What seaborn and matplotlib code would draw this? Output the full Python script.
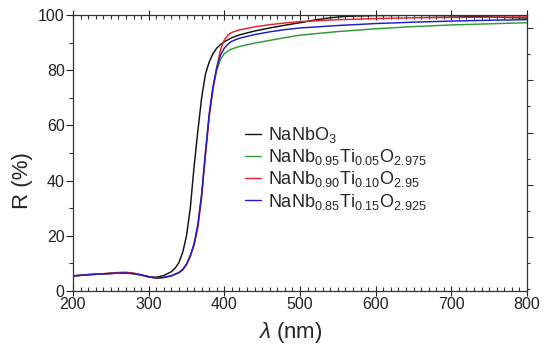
import numpy as np
import pandas as pd
import matplotlib
matplotlib.use("Agg")
import matplotlib.pyplot as plt
from matplotlib.ticker import MultipleLocator
import seaborn as sns

sns.set_style("ticks")
plt.rcParams['font.family'] = ['Liberation Sans', 'DejaVu Sans']
plt.rcParams['mathtext.fontset'] = 'custom'
plt.rcParams['mathtext.rm'] = 'Liberation Sans'
plt.rcParams['mathtext.it'] = 'Liberation Sans:italic'
plt.rcParams['mathtext.default'] = 'regular'

# ---- data ----
wl_nbo = [200, 220, 240, 260, 270, 280, 290, 300, 310, 320, 330, 335, 340, 345, 350, 355,
          360, 365, 370, 375, 380, 385, 390, 395, 400, 410, 420, 440, 460, 480, 500,
          520, 540, 560, 600, 650, 700, 750, 800]
r_nbo = [5.5, 5.9, 6.2, 6.5, 6.5, 6.3, 5.8, 5.2, 5.0, 5.6, 7.0, 8.3, 10.3, 14.0, 20.0, 30.0,
         45.0, 58.0, 70.0, 78.5, 83.0, 86.0, 88.0, 89.3, 90.3, 91.8, 92.8, 94.2, 95.3, 96.3, 97.2,
         98.2, 99.0, 99.5, 99.8, 99.9, 99.7, 99.3, 98.9]

wl_ti = [200, 220, 240, 260, 270, 280, 290, 300, 310, 320, 330, 340, 345, 350, 355, 360,
         365, 370, 375, 380, 385, 390, 395, 400, 405, 410, 420, 440, 460, 480, 500,
         550, 600, 650, 700, 750, 800]
r_ti05 = [5.4, 5.9, 6.2, 6.5, 6.5, 6.3, 5.8, 5.1, 4.7, 4.9, 5.5, 6.7, 7.8, 9.7, 12.8, 17.0,
          24.0, 35.0, 50.0, 64.0, 73.5, 80.0, 84.0, 86.0, 87.0, 87.7, 88.6, 89.8, 90.8, 91.8, 92.7,
          94.0, 95.0, 95.8, 96.4, 96.8, 97.2]
r_ti10 = [5.5, 6.0, 6.3, 6.7, 6.8, 6.5, 5.9, 5.2, 4.7, 4.9, 5.5, 6.6, 7.6, 9.5, 12.5, 16.5,
          23.0, 34.0, 49.0, 63.0, 73.0, 81.0, 87.5, 91.0, 92.8, 93.7, 94.6, 95.7, 96.5, 97.1, 97.6,
          98.3, 98.7, 99.0, 99.1, 99.2, 99.3]
r_ti15 = [5.4, 5.9, 6.2, 6.5, 6.5, 6.3, 5.8, 5.1, 4.7, 4.9, 5.5, 6.7, 7.8, 9.7, 12.8, 17.0,
          24.0, 35.0, 50.0, 64.0, 74.0, 81.0, 85.5, 88.0, 89.5, 90.5, 91.6, 92.9, 93.9, 94.7, 95.3,
          96.2, 96.9, 97.4, 97.8, 98.1, 98.3]

labels = ['NaNbO$_{3}$',
          'NaNb$_{0.95}$Ti$_{0.05}$O$_{2.975}$',
          'NaNb$_{0.90}$Ti$_{0.10}$O$_{2.95}$',
          'NaNb$_{0.85}$Ti$_{0.15}$O$_{2.925}$']
colors = ['#111111', '#2e9a35', '#e8202e', '#1c1ccf']

x_ticks = [200, 300, 400, 500, 600, 700, 800]
y_ticks = [0, 20, 40, 60, 80, 100]

frames = [
    pd.DataFrame({'wl': wl_nbo, 'R': r_nbo, 'sample': labels[0]}),
    pd.DataFrame({'wl': wl_ti, 'R': r_ti05, 'sample': labels[1]}),
    pd.DataFrame({'wl': wl_ti, 'R': r_ti10, 'sample': labels[2]}),
    pd.DataFrame({'wl': wl_ti, 'R': r_ti15, 'sample': labels[3]}),
]
df = pd.concat(frames, ignore_index=True)

fig = plt.figure(figsize=(5.44, 3.54), dpi=100)
ax = fig.add_axes([73/544, 1 - 291/354, (527-73)/544, (291-15)/354])

sns.lineplot(data=df, x='wl', y='R', hue='sample', hue_order=labels,
             palette=dict(zip(labels, colors)), linewidth=1.05, ax=ax,
             sort=True, estimator=None)

ax.set_xlim(200, 800)
ax.set_ylim(0, 100)
ax.set_xticks(x_ticks)
ax.set_yticks(y_ticks)
ax.xaxis.set_minor_locator(MultipleLocator(10))
ax.yaxis.set_minor_locator(MultipleLocator(10))

ax.tick_params(axis='x', which='major', direction='inout', length=7, width=0.8,
               top=True, labelsize=11.5, pad=1, colors='#222222')
ax.tick_params(axis='x', which='minor', direction='in', length=3, width=0.8, top=True,
               colors='#333333')
ax.tick_params(axis='y', which='major', direction='out', length=5, width=0.8,
               labelsize=11.5, pad=1, colors='#222222')
ax.tick_params(axis='y', which='minor', direction='out', length=3, width=0.8,
               colors='#333333')

for s in ax.spines.values():
    s.set_visible(True)
    s.set_color('#333333')
    s.set_linewidth(0.9)

# right-hand axis ticks (slightly differently scaled in the reference)
ax2 = ax.twinx()
ax2.set_ylim(-0.7, 105)
ax2.set_yticks([20, 40, 60, 80, 100])
ax2.yaxis.set_minor_locator(MultipleLocator(10))
ax2.tick_params(axis='y', which='major', direction='out', length=4, width=0.8,
                labelright=False, colors='#333333')
ax2.tick_params(axis='y', which='minor', direction='out', length=2.5, width=0.8,
                colors='#333333')
for s in ax2.spines.values():
    s.set_visible(False)

ax.set_xlabel(r'$\mathit{\lambda}$ (nm)', fontsize=16)
ax.set_ylabel('R (%)', fontsize=16)
ax.xaxis.set_label_coords((290-73)/454, (291-320)/276)
ax.yaxis.set_label_coords((33-73)/454, (291-181)/276)

handles, _ = ax.get_legend_handles_labels()
leg = ax.legend(handles[:4], labels, loc='upper left',
                bbox_to_anchor=((245-73)/454, 1 - (125-15)/276),
                frameon=False, fontsize=13, handlelength=0.9, handletextpad=0.4,
                labelspacing=0.12, borderaxespad=0, borderpad=0)
for h in leg.get_lines():
    h.set_linewidth(1.0)

fig.savefig('out.png', dpi=100)
